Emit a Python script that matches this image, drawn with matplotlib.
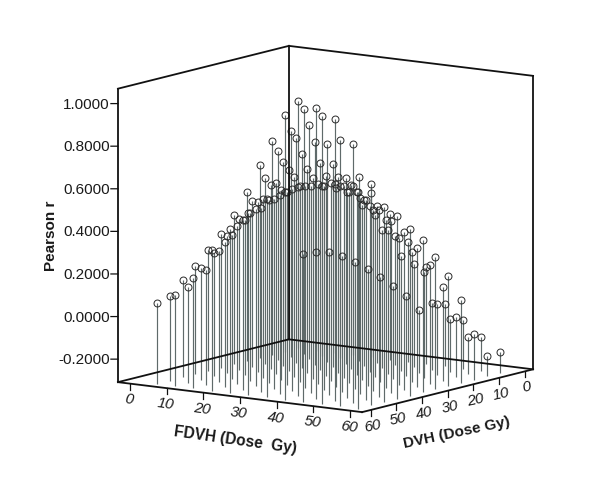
import matplotlib
matplotlib.use("Agg")
import matplotlib.pyplot as plt
import numpy as np
from mpl_toolkits.mplot3d import proj3d

plt.rcParams['font.family'] = ['Liberation Sans', 'DejaVu Sans']

# dose levels
fdvh_levels = [5, 10, 15, 20, 25, 30, 35, 40, 45, 50, 55, 60]
dvh_levels = [5, 10, 15, 20, 25, 30, 35, 40, 45, 50, 55, 60]

# Pearson r, one list per FDVH level (DVH 5 -> 60)
r_fdvh05 = [.852, .805, .695, .599, .488, .395, .320, .258, .198, .149, .088, .070]
r_fdvh10 = [.833, .841, .754, .674, .564, .471, .401, .337, .273, .216, .143, .118]
r_fdvh15 = [.791, .819, .793, .747, .649, .558, .492, .424, .365, .308, .234, .210]
r_fdvh20 = [.682, .718, .716, .737, .698, .639, .592, .533, .481, .436, .375, .352]
r_fdvh25 = [.508, .554, .565, .645, .667, .654, .632, .586, .554, .527, .489, .463]
r_fdvh30 = [.377, .429, .472, .556, .612, .632, .635, .612, .600, .584, .556, .548]
r_fdvh35 = [.253, .298, .340, .468, .551, .592, .624, .634, .638, .638, .629, .621]
r_fdvh40 = [.146, .177, .231, .368, .455, .517, .592, .623, .649, .664, .674, .666]
r_fdvh45 = [-.013, .005, -.014, .066, .131, .185, .241, .288, .333, .366, .382, .385]
r_fdvh50 = [-.078, -.061, .028, .192, .300, .381, .480, .544, .614, .658, .711, .716]
r_fdvh55 = [-.147, -.134, -.027, .132, .249, .344, .435, .501, .570, .630, .711, .726]
r_fdvh60 = [-.210, -.214, -.096, .081, .210, .314, .406, .475, .552, .610, .688, .707]

r_rows = [r_fdvh05, r_fdvh10, r_fdvh15, r_fdvh20, r_fdvh25, r_fdvh30,
          r_fdvh35, r_fdvh40, r_fdvh45, r_fdvh50, r_fdvh55, r_fdvh60]

dose_ticks = [0, 10, 20, 30, 40, 50, 60]
r_ticks = [-0.2, 0.0, 0.2, 0.4, 0.6, 0.8, 1.0]

LO, HI = -3.3, 63.3
Z_LO, Z_HI = -0.308, 1.07
BOX = '#111111'
TXT = '#1a1a1a'

fig = plt.figure(figsize=(6, 4.81), dpi=100)
ax = fig.add_axes([78.5 / 600, 4 / 481, 481 / 600, 1.0], projection='3d',
                  proj_type='ortho', computed_zorder=False)
ax.view_init(elev=10.1, azim=-55)
ax.set_box_aspect((1, 1, 1), zoom=1.042)
ax.set_axis_off()
ax.patch.set_alpha(0)

F, D = np.meshgrid(fdvh_levels, dvh_levels, indexing='ij')
R = np.array(r_rows)

markers, stems, base = ax.stem(F.ravel(), D.ravel(), R.ravel(), bottom=Z_LO,
                               linefmt='-', markerfmt='o')
base.set_visible(False)
stems.set_color('#5f6a6a')
stems.set_linewidth(0.85)
stems.set_zorder(2)
markers.set_markerfacecolor('none')
markers.set_markeredgecolor('#2a2a2a')
markers.set_markeredgewidth(0.7)
markers.set_markersize(5)
markers.set_zorder(3)

ax.set_xlim(LO, HI)
ax.set_ylim(HI, LO)
ax.set_zlim(Z_LO, Z_HI)


def edge(p, q, lw=1.3):
    ax.plot([p[0], q[0]], [p[1], q[1]], [p[2], q[2]], color=BOX, lw=lw,
            zorder=4, solid_capstyle='projecting')


def label(p, txt, dx, dy, **kw):
    # text stays 2D, placed in pixels from the projected point
    x2, y2, _ = proj3d.proj_transform(p[0], p[1], p[2], ax.get_proj())
    ax.annotate(txt, xy=(x2, y2), xytext=(dx, dy), textcoords='offset pixels',
                va='center', fontsize=11, color=TXT, **kw)


# floor
edge((LO, HI, Z_LO), (HI, HI, Z_LO))
edge((HI, HI, Z_LO), (HI, LO, Z_LO))
edge((HI, LO, Z_LO), (LO, LO, Z_LO))
edge((LO, LO, Z_LO), (LO, HI, Z_LO))
# walls
edge((LO, HI, Z_LO), (LO, HI, Z_HI))
edge((LO, LO, Z_LO), (LO, LO, Z_HI))
edge((HI, LO, Z_LO), (HI, LO, Z_HI))
edge((LO, HI, Z_HI), (LO, LO, Z_HI))
edge((LO, LO, Z_HI), (HI, LO, Z_HI))

# ticks
for t in r_ticks:
    edge((LO, HI, t), (LO - 1.28, HI + 0.9, t), lw=0.9)
    label((LO, HI, t), '%.4f' % t, -8, 0, ha='right')
for t in dose_ticks:
    edge((t, HI, Z_LO), (t, HI, Z_LO - 0.028), lw=0.9)
    label((t, HI, Z_LO), str(t), -1, -15, ha='center', style='italic', rotation=-7)
    edge((HI, t, Z_LO), (HI, t, Z_LO - 0.028), lw=0.9)
    label((HI, t, Z_LO), str(t), 2, -15, ha='center', style='italic', rotation=13)

fig.text(235 / 600, 1 - 440 / 481, 'FDVH (Dose  Gy)', ha='center', va='center',
         fontsize=11.2, fontweight='bold', rotation=-8, color=TXT)
fig.text(457 / 600, 1 - 433 / 481, 'DVH (Dose Gy)', ha='center', va='center',
         fontsize=11, fontweight='bold', rotation=12, color=TXT)
fig.text(51 / 600, 1 - 236 / 481, 'Pearson r', ha='center', va='center',
         fontsize=11, fontweight='bold', rotation=90, color=TXT)

fig.savefig('out.png', dpi=100)
